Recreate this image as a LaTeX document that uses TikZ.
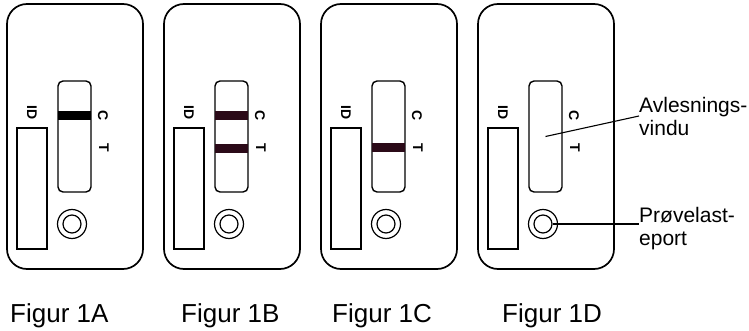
\documentclass[tikz,border=0pt]{standalone}
\usepackage{fontspec}
\setmainfont{Liberation Sans}
\usetikzlibrary{positioning,calc}
\definecolor{strekfarge}{HTML}{2B0A18}
\tikzset{
    kassett/.style={
        rectangle,
        draw,
        line width=1.7pt,
        rounded corners=20pt,
        minimum width=136pt,
        minimum height=265pt
    },
    vindu/.style={
        rectangle,
        draw,
        line width=1.4pt,
        rounded corners=5pt,
        minimum width=33pt,
        minimum height=111pt
    },
    idfelt/.style={rectangle, draw, line width=1.4pt, minimum width=30pt, minimum height=121pt},
    bronn/.style={circle, draw, line width=1.2pt, inner sep=0pt},
    merke/.style={font=\fontsize{14}{14}\selectfont\bfseries, rotate=-90, inner sep=0pt},
    figtekst/.style={font=\fontsize{26}{30}\selectfont, anchor=base west, inner sep=0pt},
    forklaring/.style={font=\fontsize{21}{23}\selectfont, align=left, anchor=west, inner sep=0pt},
    peker/.style={line width=1.1pt}
}

\begin{document}
\begin{tikzpicture}[x=1pt, y=-1pt]
    \useasboundingbox (0,0) rectangle (749,331);

    % fire kassetter side om side
    \foreach \dx/\nm in {0/A, 157/B, 314/C, 471/D} {
        \node[kassett] (kassett\nm) at (75+\dx,136.5) {};
        \node[vindu] (vindu\nm) at (74.5+\dx,136.5) {};
        \node[idfelt] (id\nm) at (32+\dx,188.5) {};
        \node[merke] (idtekst\nm) at (32+\dx,113) {ID};
        \node[merke] (c\nm) at (103+\dx,116) {C};
        \node[merke] (t\nm) at (104+\dx,148) {T};
        \node[bronn, minimum size=29pt] (bronn\nm) at (72+\dx,224) {};
        \node[bronn, minimum size=18pt] (indre\nm) at (bronn\nm.center) {};
    }

    % fargede streker i vinduene
    \foreach \dx/\y/\farge in {0/111/black, 157/111/strekfarge, 157/144/strekfarge, 314/143/strekfarge} {
        \fill[\farge] (58+\dx,\y) rectangle (91+\dx,\y+9.5);
    }

    \node[figtekst] (figA) at (10,322) {Figur 1A};
    \node[figtekst] (figB) at (181,322) {Figur 1B};
    \node[figtekst] (figC) at (332,322) {Figur 1C};
    \node[figtekst] (figD) at (502,322) {Figur 1D};

    \node[forklaring] (avlesning) at (639,116) {Avlesnings-\\vindu};
    \node[forklaring] (port) at (639,229) {Prøvelast-\\eport};

    \draw[peker] (vinduD.center) -- (avlesning.west);
    \draw[peker] (indreD.east) -- (indreD.east -| port.west);
\end{tikzpicture}
\end{document}
